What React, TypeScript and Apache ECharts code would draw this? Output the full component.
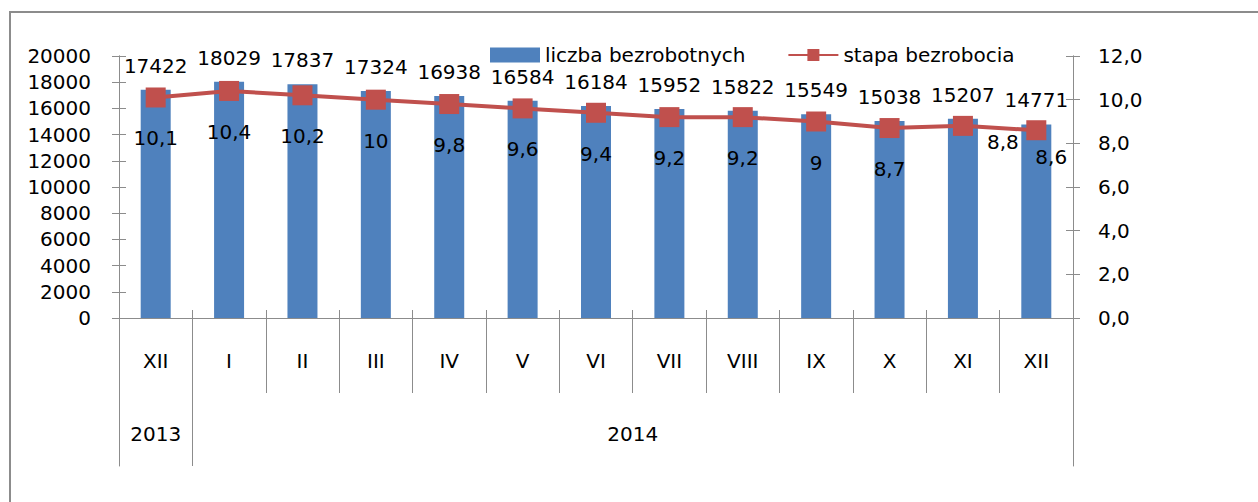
import React, { useEffect, useRef } from "react";
import * as echarts from "echarts";

const months = ["XII", "I", "II", "III", "IV", "V", "VI", "VII", "VIII", "IX", "X", "XI", "XII"];
const years = ["2013", "2014"];
const yearSpans = [1, 12];
const unemployed = [17422, 18029, 17837, 17324, 16938, 16584, 16184, 15952, 15822, 15549, 15038, 15207, 14771];
const rate = [10.1, 10.4, 10.2, 10, 9.8, 9.6, 9.4, 9.2, 9.2, 9, 8.7, 8.8, 8.6];
const seriesNames = ["liczba bezrobotnych", "stapa bezrobocia"];

const FONT = "DejaVu Sans";
const AXIS_COLOR = "#8c8c8c";
const TEXT_COLOR = "#000000";

export default function App() {
  const ref = useRef<HTMLDivElement>(null);

  useEffect(() => {
    if (!ref.current) return;
    const chart = echarts.init(ref.current, undefined, { renderer: "svg" });

    const bounds: number[] = [0];
    yearSpans.forEach((s) => bounds.push(bounds[bounds.length - 1] + s));
    const centers = yearSpans.map((s, i) => bounds[i] + s / 2);
    const fmtComma = (v: number) => String(v).replace(".", ",");

    const lineData = rate.map((v, i) => {
      if (i === 11) return { value: v, label: { position: "right", distance: 14, offset: [0, 16] } };
      if (i === 12) return { value: v, label: { position: "right", distance: -11, offset: [0, 27] } };
      return v;
    });

    const axisLine = { show: true, lineStyle: { color: AXIS_COLOR, width: 1 } };

    const option: any = {
      animation: false,
      textStyle: { fontFamily: FONT },
      graphic: [
        {
          type: "rect",
          shape: { x: 10, y: 12, width: 1400, height: 700 },
          style: { fill: "none", stroke: "#8c8c8c", lineWidth: 2 },
          silent: true,
          z: -10,
        },
      ],
      legend: {
        data: [{ name: seriesNames[0], icon: "rect" }, { name: seriesNames[1] }],
        left: 485,
        top: 40,
        itemWidth: 50,
        itemHeight: 15,
        itemGap: 42,
        textStyle: { fontFamily: FONT, fontSize: 20, color: TEXT_COLOR },
      },
      grid: [
        { left: 119, right: 185, top: 56, bottom: 184, containLabel: false },
        { left: 119, right: 185, top: 393, height: 73, containLabel: false },
      ],
      xAxis: [
        {
          type: "category",
          gridIndex: 0,
          data: months,
          position: "bottom",
          axisLine,
          axisTick: { show: true, length: 75, lineStyle: { color: AXIS_COLOR } },
          axisLabel: { margin: 33, fontFamily: FONT, fontSize: 20, color: TEXT_COLOR, interval: 0 },
          splitLine: { show: false },
        },
        {
          type: "category",
          gridIndex: 0,
          data: months,
          position: "bottom",
          axisLine,
          axisTick: { show: true, inside: true, length: 8, lineStyle: { color: AXIS_COLOR } },
          axisLabel: { show: false },
          splitLine: { show: false },
        },
        {
          type: "value",
          gridIndex: 0,
          min: 0,
          max: months.length,
          position: "bottom",
          offset: 75,
          axisLine: { show: false },
          axisTick: { show: false },
          axisLabel: {
            customValues: centers,
            margin: 31,
            fontFamily: FONT,
            fontSize: 20,
            color: TEXT_COLOR,
            formatter: (v: number) => {
              const idx = centers.findIndex((c) => Math.abs(c - v) < 1e-6);
              return idx >= 0 ? years[idx] : "";
            },
          },
          splitLine: { show: false },
        },
        {
          type: "category",
          gridIndex: 1,
          data: months,
          position: "bottom",
          axisLine: { show: false },
          axisTick: { show: false },
          axisLabel: { show: false },
          splitLine: {
            show: true,
            interval: (i: number) => bounds.indexOf(i) >= 0,
            lineStyle: { color: AXIS_COLOR, width: 1 },
          },
        },
      ],
      yAxis: [
        {
          type: "value",
          gridIndex: 0,
          min: 0,
          max: 20000,
          interval: 2000,
          position: "left",
          axisLine,
          axisTick: { show: true, length: 7, lineStyle: { color: AXIS_COLOR } },
          axisLabel: {
            margin: 28,
            fontFamily: FONT,
            fontSize: 20,
            color: TEXT_COLOR,
            formatter: (v: number) => String(v),
          },
          splitLine: { show: false },
        },
        {
          type: "value",
          gridIndex: 0,
          min: 0,
          max: 12,
          interval: 2,
          position: "right",
          axisLine,
          axisTick: { show: true, length: 7, lineStyle: { color: AXIS_COLOR } },
          axisLabel: {
            margin: 25,
            fontFamily: FONT,
            fontSize: 20,
            color: TEXT_COLOR,
            formatter: (v: number) => v.toFixed(1).replace(".", ","),
          },
          splitLine: { show: false },
        },
        {
          type: "value",
          gridIndex: 0,
          min: 0,
          max: 20000,
          interval: 2000,
          position: "left",
          axisLine,
          axisTick: { show: true, inside: true, length: 7, lineStyle: { color: AXIS_COLOR } },
          axisLabel: { show: false },
          splitLine: { show: false },
        },
        {
          type: "value",
          gridIndex: 0,
          min: 0,
          max: 12,
          interval: 2,
          position: "right",
          axisLine,
          axisTick: { show: true, inside: true, length: 7, lineStyle: { color: AXIS_COLOR } },
          axisLabel: { show: false },
          splitLine: { show: false },
        },
        {
          type: "value",
          gridIndex: 1,
          min: 0,
          max: 1,
          position: "left",
          axisLine,
          axisTick: { show: false },
          axisLabel: { show: false },
          splitLine: { show: false },
        },
        {
          type: "value",
          gridIndex: 1,
          min: 0,
          max: 1,
          position: "right",
          axisLine,
          axisTick: { show: false },
          axisLabel: { show: false },
          splitLine: { show: false },
        },
      ],
      series: [
        {
          name: seriesNames[0],
          type: "bar",
          xAxisIndex: 0,
          yAxisIndex: 0,
          data: unemployed,
          barWidth: 30,
          itemStyle: { color: "#4F81BD" },
          label: {
            show: true,
            position: "top",
            distance: 14,
            fontFamily: FONT,
            fontSize: 20,
            color: TEXT_COLOR,
          },
        },
        {
          name: seriesNames[1],
          type: "line",
          xAxisIndex: 0,
          yAxisIndex: 1,
          data: lineData,
          symbol: "rect",
          symbolSize: 20,
          lineStyle: { color: "#C0504D", width: 4 },
          itemStyle: { color: "#C0504D" },
          label: {
            show: true,
            position: "bottom",
            distance: 21,
            fontFamily: FONT,
            fontSize: 20,
            color: TEXT_COLOR,
            formatter: (p: any) => fmtComma(p.value),
          },
        },
      ],
    };

    chart.setOption(option);
    return () => chart.dispose();
  }, []);

  return (
    <div
      ref={ref}
      style={{ position: "fixed", left: 0, top: 0, width: 1258, height: 502, background: "#ffffff" }}
    />
  );
}
